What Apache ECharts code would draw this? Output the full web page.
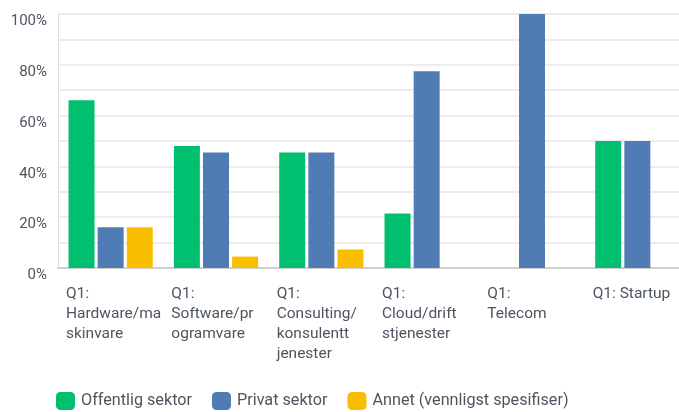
<!DOCTYPE html>
<html><head><meta charset="utf-8">
<script src="https://cdn.jsdelivr.net/npm/echarts@6/dist/echarts.min.js"></script>
<style>html,body{margin:0;padding:0;background:#fff}#c{width:679px;height:412px}</style>
</head><body><div id="c"></div>
<script>
const categories = ["Q1:\nHardware/ma\nskinvare","Q1:\nSoftware/pr\nogramvare","Q1:\nConsulting/\nkonsulentt\njenester","Q1:\nCloud/drift\nstjenester","Q1:\nTelecom","Q1: Startup"];
const seriesNames = ["Offentlig sektor","Privat sektor","Annet (vennligst spesifiser)"];
const offentlig = [66, 48, 45.5, 21.5, 0, 50];
const privat = [16, 45.5, 45.5, 77.5, 100, 50];
const annet = [16, 4.5, 7.3, 0, 0, 0];
const colors = ["#00bf6f","#507cb6","#f9be00"];
const font = "Roboto";
const chart = echarts.init(document.getElementById('c'));
const mk = (name, data, color) => ({name, type:'bar', data, barWidth:26, barGap:'12%', itemStyle:{color}, xAxisIndex:0});
chart.setOption({
  animation:false,
  textStyle:{fontFamily:font},
  grid:{left:58, top:14, width:632, height:254, containLabel:false, outerBoundsMode:'none'},
  legend:{left:56, top:392, padding:0, itemWidth:19, itemHeight:18, itemGap:20, icon:'roundRect',
    textStyle:{fontSize:16.2, color:'#4d5560', fontFamily:font, padding:[0,0,0,1]}, data:seriesNames},
  xAxis:[
    {type:'category', data:categories, boundaryGap:true, axisTick:{show:false}, axisLabel:{show:false},
     axisLine:{lineStyle:{color:'#d0d0d0', width:2}}},
    {type:'category', position:'bottom', data:categories.concat(['']), boundaryGap:false,
     axisTick:{show:false}, axisLine:{show:false},
     axisLabel:{interval:0, align:'left', verticalAlign:'top', margin:16, padding:[0,0,0,8], fontSize:15.5, lineHeight:20, color:'#4d5560', fontFamily:font}}
  ],
  yAxis:{type:'value', min:0, max:100, interval:10,
    axisLine:{show:true, lineStyle:{color:'#dddddd', width:1}},
    axisTick:{show:false},
    splitLine:{lineStyle:{color:'#ececec', width:2}},
    axisLabel:{formatter:v => v%20===0 ? v+'%' : '', fontSize:15, color:'#4d5560', margin:11, verticalAlign:'top', lineHeight:15, fontFamily:font}},
  series:[mk(seriesNames[0], offentlig, colors[0]), mk(seriesNames[1], privat, colors[1]), mk(seriesNames[2], annet, colors[2])]
});
</script></body></html>
